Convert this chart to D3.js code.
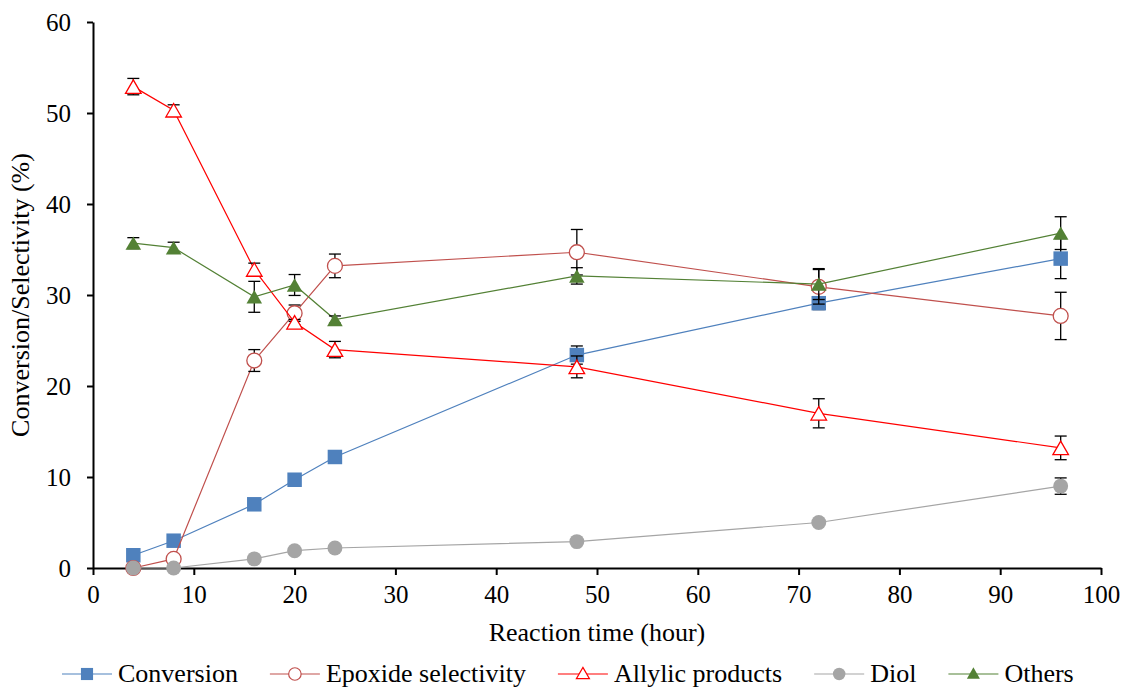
<!DOCTYPE html>
<html>
<head>
<meta charset="utf-8">
<script src="https://cdn.jsdelivr.net/npm/d3@7"></script>
<style>
  body { margin: 0; background: #fff; }
</style>
</head>
<body>
<div id="chart"></div>
<script>
// Reaction time (hour)
var hours = [4, 8, 16, 20, 24, 48, 72, 96];

// values (%)
var conversion = [1.4, 3.0, 7.0, 9.7, 12.2, 23.4, 29.1, 34.0];
var conversionErr = [0, 0, 0, 0, 0, 1.0, 0.7, 2.2];
var epoxide = [0, 1.0, 22.8, 28.0, 33.2, 34.7, 30.9, 27.7];
var epoxideErr = [0, 0, 1.2, 0.9, 1.3, 2.5, 1.9, 2.6];
var allylic = [52.9, 50.3, 32.8, 27.0, 24.0, 22.1, 17.0, 13.2];
var allylicErr = [0.9, 0.6, 0.7, 0.3, 0.9, 1.2, 1.6, 1.3];
var diol = [0, 0, 1.0, 1.9, 2.2, 2.9, 5.0, 9.0];
var diolErr = [0, 0, 0, 0, 0, 0, 0, 0.9];
var others = [35.7, 35.2, 29.8, 31.1, 27.3, 32.1, 31.2, 36.8];
var othersErr = [0.6, 0.6, 1.7, 1.15, 0.4, 0.9, 1.7, 1.8];

var seriesNames = ["Conversion", "Epoxide selectivity", "Allylic products", "Diol", "Others"];
var xTicks = [0, 10, 20, 30, 40, 50, 60, 70, 80, 90, 100];
var yTicks = [0, 10, 20, 30, 40, 50, 60];

var series = [
    {name: seriesNames[0], values: conversion, err: conversionErr, color: "#4f81bd", shape: "square", fill: "#4f81bd"},
    {name: seriesNames[1], values: epoxide, err: epoxideErr, color: "#c0504d", shape: "circle", fill: "#fff"},
    {name: seriesNames[2], values: allylic, err: allylicErr, color: "#ff0000", shape: "triangle", fill: "#fff"},
    {name: seriesNames[3], values: diol, err: diolErr, color: "#a5a5a5", shape: "circle", fill: "#a5a5a5"},
    {name: seriesNames[4], values: others, err: othersErr, color: "#538135", shape: "triangle", fill: "#538135"}
];

var FONT = "'Liberation Serif', 'Times New Roman', 'DejaVu Serif', serif";
var width = 1123, height = 687;
var mLeft = 93, mRight = 1101, mTop = 22, mBottom = 568;

var svg = d3.select("#chart").append("svg")
    .attr("width", width)
    .attr("height", height);

var x = d3.scaleLinear().domain([0, 100]).range([mLeft, mRight]);
var y = d3.scaleLinear().domain([0, 60]).range([mBottom, mTop]);

// axes
var yAxis = svg.append("g")
    .attr("transform", "translate(" + mLeft + ",0)")
    .call(d3.axisLeft(y).tickValues(yTicks).tickSize(6).tickSizeOuter(0).tickPadding(16));
var xAxis = svg.append("g")
    .attr("transform", "translate(0," + mBottom + ")")
    .call(d3.axisBottom(x).tickValues(xTicks).tickSize(7).tickSizeOuter(0).tickPadding(10));

[xAxis, yAxis].forEach(function(ax) {
    ax.attr("font-family", FONT).attr("font-size", 25);
    ax.select(".domain").attr("stroke", "#000").attr("stroke-width", 2);
    ax.selectAll(".tick line").attr("stroke", "#000").attr("stroke-width", 2);
    ax.selectAll(".tick text").attr("fill", "#000");
});
yAxis.selectAll(".tick text").attr("dy", "0.34em");

svg.append("text")
    .attr("x", (mLeft + mRight) / 2)
    .attr("y", 641)
    .attr("text-anchor", "middle")
    .attr("font-family", FONT)
    .attr("font-size", 26)
    .text("Reaction time (hour)");

svg.append("text")
    .attr("transform", "translate(29," + ((mTop + mBottom) / 2) + ") rotate(-90)")
    .attr("text-anchor", "middle")
    .attr("font-family", FONT)
    .attr("font-size", 26)
    .text("Conversion/Selectivity (%)");

var symbols = {
    square: d3.symbolSquare,
    circle: d3.symbolCircle,
    triangle: d3.symbolTriangle
};
var sizes = {square: 210, circle: 175, triangle: 105};
function markerPath(shape, scale) {
    return d3.symbol().type(symbols[shape]).size(sizes[shape] * scale)();
}
// d3 triangles sit on their centroid; shift so the box is centred
function triShift(scale) {
    return Math.sqrt(sizes.triangle * scale / (Math.sqrt(3) * 3)) / 2;
}

var line = d3.line()
    .x(function(d) { return x(d[0]); })
    .y(function(d) { return y(d[1]); });

var plot = svg.append("g");

series.forEach(function(s) {
    var pts = hours.map(function(h, i) { return [h, s.values[i], s.err[i]]; });
    var g = plot.append("g");

    g.append("path")
        .datum(pts)
        .attr("d", line)
        .attr("fill", "none")
        .attr("stroke", s.color)
        .attr("stroke-width", 1.2);

    var eb = g.selectAll(".err")
        .data(pts.filter(function(d) { return d[2] > 0; }))
        .enter().append("g")
        .attr("stroke", "#000")
        .attr("stroke-width", 1.3);
    eb.append("line")
        .attr("x1", function(d) { return x(d[0]); })
        .attr("x2", function(d) { return x(d[0]); })
        .attr("y1", function(d) { return y(d[1] - d[2]); })
        .attr("y2", function(d) { return y(d[1] + d[2]); });
    [-1, 1].forEach(function(sign) {
        eb.append("line")
            .attr("x1", function(d) { return x(d[0]) - 6; })
            .attr("x2", function(d) { return x(d[0]) + 6; })
            .attr("y1", function(d) { return y(d[1] + sign * d[2]); })
            .attr("y2", function(d) { return y(d[1] + sign * d[2]); });
    });

    g.selectAll(".pt")
        .data(pts)
        .enter().append("path")
        .attr("d", markerPath(s.shape, 1))
        .attr("transform", function(d) {
            var dy = s.shape === "triangle" ? triShift(1) : 0;
            return "translate(" + x(d[0]) + "," + (y(d[1]) + dy) + ")";
        })
        .attr("fill", s.fill)
        .attr("stroke", s.color)
        .attr("stroke-width", s.fill === "#fff" ? 1.3 : 0);
});

// legend
var legend = svg.append("g").attr("transform", "translate(0,674)");
var lx = 62;
series.forEach(function(s) {
    var item = legend.append("g").attr("transform", "translate(" + lx + ",0)");
    item.append("line")
        .attr("x1", 0).attr("x2", 50)
        .attr("stroke", s.color)
        .attr("stroke-width", 1.2);
    item.append("path")
        .attr("d", markerPath(s.shape, 0.7))
        .attr("transform", "translate(25," + (s.shape === "triangle" ? triShift(0.7) - 1 : 0) + ")")
        .attr("fill", s.fill)
        .attr("stroke", s.color)
        .attr("stroke-width", s.fill === "#fff" ? 1.2 : 0);
    var t = item.append("text")
        .attr("x", 56)
        .attr("y", 8)
        .attr("font-family", FONT)
        .attr("font-size", 26)
        .text(s.name);
    lx += 56 + t.node().getComputedTextLength() + 32;
});
</script>
</body>
</html>
